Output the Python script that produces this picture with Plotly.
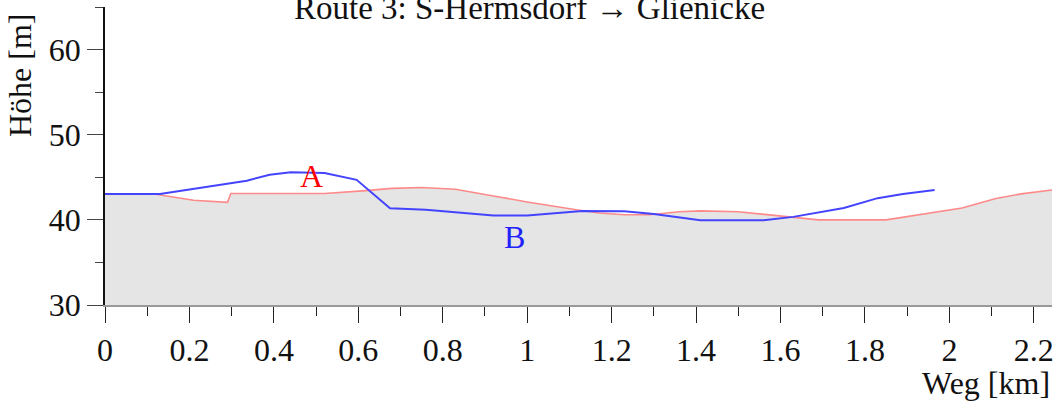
import plotly.graph_objects as go

# Route A (ground profile, red) and Route B (blue)
a_km = [0.00, 0.12, 0.21, 0.29, 0.298, 0.52, 0.61, 0.68, 0.75, 0.83, 0.91, 1.00, 1.12, 1.17,
        1.23, 1.29, 1.36, 1.41, 1.50, 1.56, 1.69, 1.85, 1.97, 2.03, 2.11, 2.17, 2.243]
a_m = [43.0, 43.0, 42.3, 42.05, 43.1, 43.1, 43.4, 43.7, 43.8, 43.6, 42.9, 42.1, 41.15, 40.8,
       40.6, 40.6, 40.95, 41.05, 40.95, 40.65, 40.0, 40.0, 40.9, 41.4, 42.5, 43.05, 43.5]

b_km = [0.00, 0.13, 0.336, 0.39, 0.44, 0.52, 0.596, 0.603, 0.675, 0.76, 0.92, 1.00, 1.13,
        1.23, 1.30, 1.41, 1.56, 1.63, 1.75, 1.83, 1.89, 1.965]
b_m = [43.05, 43.05, 44.6, 45.3, 45.6, 45.5, 44.7, 44.4, 41.35, 41.2, 40.5, 40.5, 41.05,
       41.0, 40.7, 39.95, 39.95, 40.35, 41.4, 42.55, 43.05, 43.5]

x_ticks = [0, 0.2, 0.4, 0.6, 0.8, 1.0, 1.2, 1.4, 1.6, 1.8, 2.0, 2.2]
x_labels = ["0", "0.2", "0.4", "0.6", "0.8", "1", "1.2", "1.4", "1.6", "1.8", "2", "2.2"]
y_ticks = [30, 40, 50, 60]

title = "Route 3: S-Hermsdorf \u2192 Glienicke"
FONT = "Liberation Serif"
FS = 32

fig = go.Figure()
fig.add_trace(go.Scatter(x=a_km, y=a_m, mode="lines", fill="tozeroy",
                         fillcolor="#e5e5e5", line=dict(color="#ff8a8a", width=1.6),
                         hoverinfo="skip", showlegend=False))
fig.add_trace(go.Scatter(x=b_km, y=b_m, mode="lines",
                         line=dict(color="#4444ff", width=2),
                         showlegend=False))

fig.add_annotation(x=0.488, y=45.2, text="A", showarrow=False,
                   font=dict(family=FONT, size=FS, color="#ff0000"))
fig.add_annotation(x=0.969, y=38.0, text="B", showarrow=False,
                   font=dict(family=FONT, size=FS, color="#2222ff"))

fig.add_annotation(xref="paper", yref="paper", x=(529 - 105) / 947, y=0.995,
                   text=title, showarrow=False, xanchor="center", yanchor="middle",
                   font=dict(family=FONT, size=33, color="#111111"))
fig.add_annotation(xref="paper", yref="paper", x=(20 - 105) / 947, y=1 - (75 - 7) / 298,
                   text="Höhe [m]", showarrow=False, textangle=-90,
                   xanchor="center", yanchor="middle",
                   font=dict(family=FONT, size=FS, color="#111111"))
fig.add_annotation(xref="paper", yref="paper", x=1.0, y=-(383 - 305) / 298,
                   text="Weg [km]", showarrow=False, xanchor="right", yanchor="middle",
                   font=dict(family=FONT, size=FS, color="#111111"))

fig.update_xaxes(range=[0, 2.243], tickvals=x_ticks, ticktext=x_labels,
                 ticks="outside", ticklen=16, tickwidth=1.2, tickcolor="#222",
                 minor=dict(dtick=0.1, tick0=0, ticks="outside", ticklen=9,
                            tickwidth=1.2, tickcolor="#222"),
                 showline=True, linecolor="#999999", linewidth=1.5,
                 showgrid=False, zeroline=False, automargin=False,
                 tickfont=dict(family=FONT, size=FS, color="#111"))
fig.update_yaxes(range=[30, 65], tickvals=y_ticks,
                 ticks="outside", ticklen=16, tickwidth=1.2, tickcolor="#444",
                 minor=dict(dtick=5, tick0=30, ticks="outside", ticklen=8,
                            tickwidth=1.2, tickcolor="#444"),
                 showline=True, linecolor="#111111", linewidth=1.5,
                 showgrid=False, zeroline=False, ticklabelstandoff=0, automargin=False,
                 tickfont=dict(family=FONT, size=FS, color="#111"))

fig.update_layout(width=1058, height=401,
                  margin=dict(l=105, r=6, t=7, b=96),
                  paper_bgcolor="white", plot_bgcolor="white",
                  font=dict(family=FONT, size=FS))

fig.write_html("out.html", config={"displayModeBar": False},
               post_script="document.body.style.margin='0';document.body.style.overflow='hidden';")
